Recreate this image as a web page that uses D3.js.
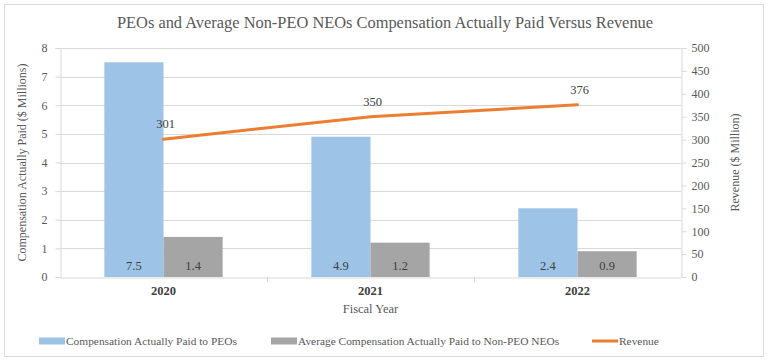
<!DOCTYPE html>
<html>
<head>
<meta charset="utf-8">
<script src="https://cdn.jsdelivr.net/npm/d3@7"></script>
<style>
  body { margin: 0; background: #fff; }
  svg, svg text { font-family: 'Liberation Serif', 'Times New Roman', Tinos, 'DejaVu Serif', serif !important; }
</style>
</head>
<body>
<div id="chart"></div>
<script>
const years = ['2020', '2021', '2022'];
const peoPay = [7.5, 4.9, 2.4];
const neoPay = [1.4, 1.2, 0.9];
const revenue = [301, 350, 376];
const leftTicks = [0, 1, 2, 3, 4, 5, 6, 7, 8];
const rightTicks = [0, 50, 100, 150, 200, 250, 300, 350, 400, 450, 500];

const width = 768, height = 362;
const margin = {top: 48, right: 87, bottom: 85, left: 60};
const textCol = '#595959';

const svg = d3.select('#chart').append('svg')
  .attr('width', width)
  .attr('height', height);

svg.append('rect')
  .attr('x', 4.5).attr('y', 4.5)
  .attr('width', 759).attr('height', 352)
  .attr('fill', '#fff').attr('stroke', '#d9d9d9');

const x = d3.scaleBand()
  .domain(years)
  .range([margin.left, width - margin.right]);

const inner = d3.scaleBand()
  .domain(['peo', 'neo'])
  .range([0, x.bandwidth()])
  .paddingOuter(0.75)
  .paddingInner(0);

const yL = d3.scaleLinear().domain([0, 8]).range([height - margin.bottom, margin.top]);
const yR = d3.scaleLinear().domain([0, 500]).range([height - margin.bottom, margin.top]);

// gridlines
svg.append('g')
  .selectAll('line')
  .data(leftTicks.slice(1))
  .join('line')
  .attr('x1', margin.left).attr('x2', width - margin.right)
  .attr('y1', d => Math.round(yL(d)) + 0.5).attr('y2', d => Math.round(yL(d)) + 0.5)
  .attr('stroke', '#d9d9d9');

// left axis
const gl = svg.append('g')
  .attr('transform', `translate(${margin.left + 0.5},0)`)
  .call(d3.axisLeft(yL).tickValues(leftTicks).tickSize(5).tickPadding(8));
gl.attr('font-family', null);
gl.select('.domain').attr('stroke', '#d9d9d9');
gl.selectAll('.tick line').attr('stroke', '#d9d9d9');
gl.selectAll('.tick text').attr('fill', textCol).style('font-size', '12px');

// right axis
const gr = svg.append('g')
  .attr('transform', `translate(${width - margin.right + 0.5},0)`)
  .call(d3.axisRight(yR).tickValues(rightTicks).tickSize(5).tickPadding(5));
gr.attr('font-family', null);
gr.select('.domain').attr('stroke', '#d9d9d9');
gr.selectAll('.tick line').attr('stroke', '#d9d9d9');
gr.selectAll('.tick text').attr('fill', textCol).style('font-size', '12px');

// bars
const groups = svg.append('g')
  .selectAll('g')
  .data(years.map((y, i) => ({year: y, peo: peoPay[i], neo: neoPay[i]})))
  .join('g')
  .attr('transform', d => `translate(${x(d.year)},0)`);

groups.selectAll('rect')
  .data(d => [{k: 'peo', v: d.peo}, {k: 'neo', v: d.neo}])
  .join('rect')
  .attr('x', d => inner(d.k))
  .attr('width', inner.bandwidth())
  .attr('y', d => yL(d.v))
  .attr('height', d => yL(0) - yL(d.v))
  .attr('fill', d => d.k === 'peo' ? '#9dc3e6' : '#a5a5a5');

groups.selectAll('text')
  .data(d => [{k: 'peo', v: d.peo}, {k: 'neo', v: d.neo}])
  .join('text')
  .attr('x', d => inner(d.k) + inner.bandwidth() / 2)
  .attr('y', yL(0) - 7)
  .attr('text-anchor', 'middle')
  .attr('fill', '#404040')
  .style('font-size', '12.5px')
  .text(d => d.v.toFixed(1));

// bottom axis
const gb = svg.append('g')
  .attr('transform', `translate(0,${height - margin.bottom + 0.5})`)
  .call(d3.axisBottom(x).tickSize(0).tickPadding(9));
gb.attr('font-family', null);
gb.select('.domain').attr('stroke', '#d9d9d9');
gb.selectAll('.tick text').attr('fill', '#404040').style('font-size', '12.5px')
  .style('font-weight', 'bold');
svg.append('g')
  .selectAll('line')
  .data(years.slice(1))
  .join('line')
  .attr('x1', d => Math.round(x(d)) + 0.5).attr('x2', d => Math.round(x(d)) + 0.5)
  .attr('y1', height - margin.bottom).attr('y2', height - margin.bottom + 5)
  .attr('stroke', '#d9d9d9');

// revenue line
const line = d3.line()
  .x((d, i) => x(years[i]) + x.bandwidth() / 2)
  .y(d => yR(d));
svg.append('path')
  .datum(revenue)
  .attr('d', line)
  .attr('fill', 'none')
  .attr('stroke', '#ed7d31')
  .attr('stroke-width', 3)
  .attr('stroke-linecap', 'round');

svg.append('g')
  .selectAll('text')
  .data(revenue)
  .join('text')
  .attr('x', (d, i) => x(years[i]) + x.bandwidth() / 2 + 2)
  .attr('y', d => yR(d) - 11)
  .attr('text-anchor', 'middle')
  .attr('fill', '#404040')
  .style('font-size', '12.5px')
  .text(d => d);

// titles
svg.append('text')
  .attr('x', 385).attr('y', 28)
  .attr('text-anchor', 'middle')
  .attr('fill', textCol)
  .style('font-size', '16.4px')
  .text('PEOs and Average Non-PEO NEOs Compensation Actually Paid Versus Revenue');

svg.append('text')
  .attr('transform', `translate(26,${(yL(0) + yL(8)) / 2}) rotate(-90)`)
  .attr('text-anchor', 'middle')
  .attr('fill', textCol)
  .style('font-size', '12px')
  .text('Compensation Actually Paid ($ Millions)');

svg.append('text')
  .attr('transform', `translate(739,${(yL(0) + yL(8)) / 2}) rotate(-90)`)
  .attr('text-anchor', 'middle')
  .attr('fill', textCol)
  .style('font-size', '12px')
  .text('Revenue ($ Million)');

svg.append('text')
  .attr('x', x.range()[0] + (x.range()[1] - x.range()[0]) / 2).attr('y', 313)
  .attr('text-anchor', 'middle')
  .attr('fill', textCol)
  .style('font-size', '12.5px')
  .text('Fiscal Year');

// legend
const legendItems = [
  {label: 'Compensation Actually Paid to PEOs', color: '#9dc3e6', type: 'rect', x: 39},
  {label: 'Average Compensation Actually Paid to Non-PEO NEOs', color: '#a5a5a5', type: 'rect', x: 271},
  {label: 'Revenue', color: '#ed7d31', type: 'line', x: 592}
];
const lg = svg.append('g')
  .selectAll('g')
  .data(legendItems)
  .join('g')
  .attr('transform', d => `translate(${d.x},341)`);
lg.append('rect')
  .attr('x', 0)
  .attr('y', d => d.type === 'rect' ? -3.5 : -1.5)
  .attr('width', 26)
  .attr('height', d => d.type === 'rect' ? 7 : 3)
  .attr('fill', d => d.color);
lg.append('text')
  .attr('x', 27).attr('y', 4)
  .attr('fill', textCol)
  .style('font-size', '11.4px')
  .text(d => d.label);
</script>
</body>
</html>
